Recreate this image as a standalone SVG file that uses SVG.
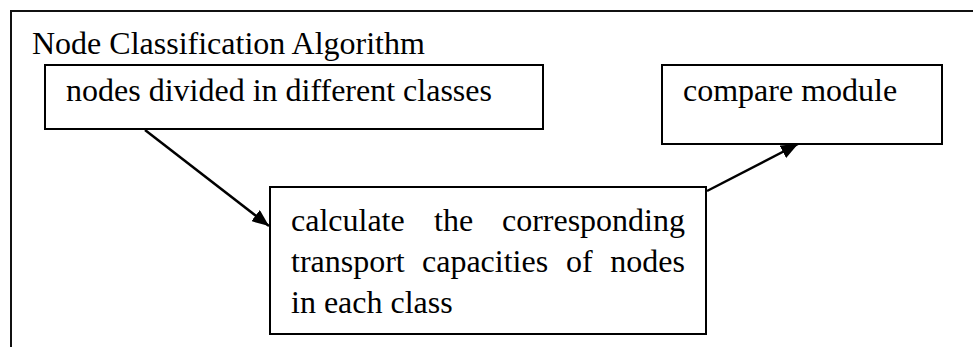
<svg xmlns="http://www.w3.org/2000/svg" width="973" height="347" viewBox="0 0 973 347">
<style>
  .box { fill: #fff; stroke: #000; stroke-width: 2; }
  .t { font-family: "Liberation Serif", "Times New Roman", serif; font-size: 32px; fill: #000; }
  .conn { stroke: #000; stroke-width: 2.5; fill: none; marker-end: url(#arrow); }
</style>
<defs>
  <marker id="arrow" markerUnits="userSpaceOnUse" markerWidth="18" markerHeight="14" refX="17" refY="7" orient="auto">
    <path d="M0,0 L17,7 L0,14 z" fill="#000"/>
  </marker>
</defs>
<rect width="973" height="347" fill="#fff"/>
<g id="frame">
  <path d="M11,347 V11 H973" fill="none" stroke="#111" stroke-width="2"/>
  <text class="t" x="32" y="54">Node Classification Algorithm</text>
</g>
<g id="node-divide">
  <rect class="box" x="45" y="65" width="498" height="64"/>
  <text class="t" x="66" y="101">nodes divided in different classes</text>
</g>
<g id="node-compare">
  <rect class="box" x="662" y="65" width="280" height="79"/>
  <text class="t" x="683" y="101">compare module</text>
</g>
<g id="node-calculate">
  <rect class="box" x="270" y="187" width="436" height="147"/>
  <text class="t" y="231"><tspan x="291">calculate</tspan><tspan x="434">the</tspan><tspan x="685" text-anchor="end">corresponding</tspan></text>
  <text class="t" y="272"><tspan x="291">transport</tspan><tspan x="422">capacities</tspan><tspan x="566">of</tspan><tspan x="685" text-anchor="end">nodes</tspan></text>
  <text class="t" x="291" y="313">in each class</text>
</g>
<g id="connectors">
  <line class="conn" x1="145" y1="130" x2="269" y2="226"/>
  <line class="conn" x1="707" y1="191" x2="798" y2="144"/>
</g>
</svg>
